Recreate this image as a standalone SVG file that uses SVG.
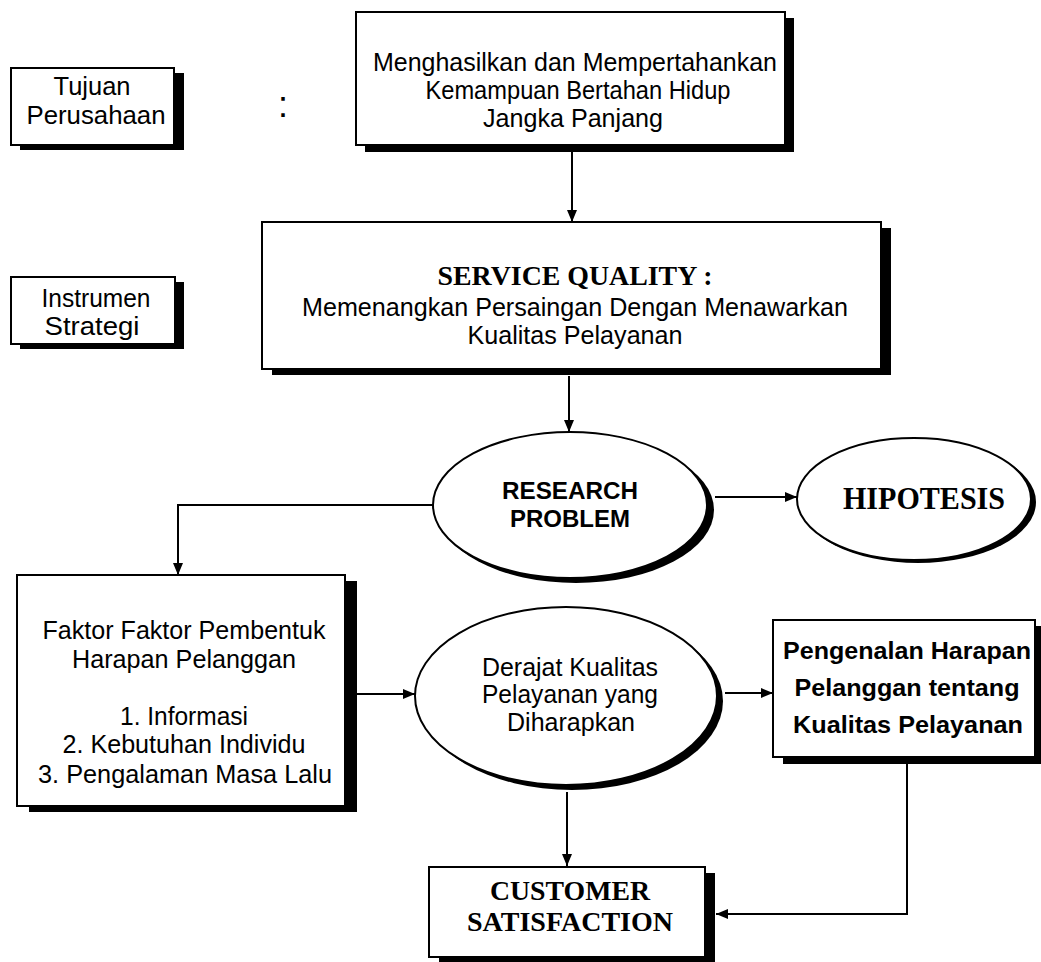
<svg xmlns="http://www.w3.org/2000/svg" width="1041" height="962" viewBox="0 0 1041 962">
  <style>
    .box { fill: #fff; stroke: #000; stroke-width: 2; }
    .shadow { fill: #000; stroke: none; }
    .t { font-family: "Liberation Sans", Arial, sans-serif; font-size: 25px; fill: #000; text-anchor: middle; }
    .tb { font-family: "Liberation Sans", Arial, sans-serif; font-size: 24px; font-weight: bold; fill: #000; text-anchor: middle; }
    .serif { font-family: "Liberation Serif", "Times New Roman", serif; font-weight: bold; fill: #000; text-anchor: middle; }
    .link { fill: none; stroke: #000; stroke-width: 2; }
  </style>
  <defs>
    <marker id="arrow" viewBox="0 0 12 10" refX="12" refY="5" markerWidth="12" markerHeight="10" markerUnits="userSpaceOnUse" orient="auto">
      <path d="M0,0 L12,5 L0,10 Z" fill="#000"/>
    </marker>
  </defs>
  <rect width="1041" height="962" fill="#fff"/>

  <!-- row labels -->
  <g id="tujuan">
    <rect class="shadow" x="20" y="73" width="164" height="77"/>
    <rect class="box" x="11" y="68" width="163" height="77"/>
    <text class="t" x="92" y="95" textLength="77" lengthAdjust="spacingAndGlyphs">Tujuan</text>
    <text class="t" x="96" y="124" textLength="139" lengthAdjust="spacingAndGlyphs">Perusahaan</text>
  </g>
  <g id="colon">
    <text class="t" x="283" y="117" style="font-size:36px">:</text>
  </g>
  <g id="instrumen">
    <rect class="shadow" x="20" y="282" width="164" height="67"/>
    <rect class="box" x="11" y="277" width="164" height="67"/>
    <text class="t" x="96" y="307" textLength="109" lengthAdjust="spacingAndGlyphs">Instrumen</text>
    <text class="t" x="92" y="335" textLength="95" lengthAdjust="spacingAndGlyphs">Strategi</text>
  </g>

  <!-- goal -->
  <g id="goal">
    <rect class="shadow" x="365" y="18" width="429" height="134"/>
    <rect class="box" x="356" y="12" width="429" height="133"/>
    <text class="t" x="575" y="71" textLength="404" lengthAdjust="spacingAndGlyphs">Menghasilkan dan Mempertahankan</text>
    <text class="t" x="578" y="99" textLength="305" lengthAdjust="spacingAndGlyphs">Kemampuan Bertahan Hidup</text>
    <text class="t" x="573" y="127" textLength="180" lengthAdjust="spacingAndGlyphs">Jangka Panjang</text>
  </g>

  <!-- strategy -->
  <g id="service-quality">
    <rect class="shadow" x="272" y="228" width="619" height="147"/>
    <rect class="box" x="262" y="222" width="619" height="147"/>
    <text class="serif" x="575" y="285" style="font-size:28px" textLength="275" lengthAdjust="spacingAndGlyphs">SERVICE QUALITY :</text>
    <text class="t" x="575" y="316" textLength="546" lengthAdjust="spacingAndGlyphs">Memenangkan Persaingan Dengan Menawarkan</text>
    <text class="t" x="575" y="344" textLength="215" lengthAdjust="spacingAndGlyphs">Kualitas Pelayanan</text>
  </g>

  <g id="research-problem">
    <ellipse class="shadow" cx="576" cy="510" rx="138" ry="73"/>
    <ellipse class="box" cx="570" cy="505" rx="137" ry="73"/>
    <text class="tb" x="570" y="499" textLength="136" lengthAdjust="spacingAndGlyphs">RESEARCH</text>
    <text class="tb" x="570" y="527" textLength="120" lengthAdjust="spacingAndGlyphs">PROBLEM</text>
  </g>

  <g id="hipotesis">
    <ellipse class="shadow" cx="918" cy="502" rx="118" ry="61"/>
    <ellipse class="box" cx="914" cy="499" rx="117" ry="61"/>
    <text class="serif" x="924" y="509" style="font-size:32px" textLength="162" lengthAdjust="spacingAndGlyphs">HIPOTESIS</text>
  </g>

  <g id="faktor">
    <rect class="shadow" x="29" y="581" width="328" height="231"/>
    <rect class="box" x="17" y="575" width="328" height="231"/>
    <text class="t" x="184" y="639" textLength="283" lengthAdjust="spacingAndGlyphs">Faktor Faktor Pembentuk</text>
    <text class="t" x="184" y="668" textLength="224" lengthAdjust="spacingAndGlyphs">Harapan Pelanggan</text>
    <text class="t" x="184" y="725" textLength="128" lengthAdjust="spacingAndGlyphs">1. Informasi</text>
    <text class="t" x="184" y="753" textLength="243" lengthAdjust="spacingAndGlyphs">2. Kebutuhan Individu</text>
    <text class="t" x="185" y="783" textLength="294" lengthAdjust="spacingAndGlyphs">3. Pengalaman Masa Lalu</text>
  </g>

  <g id="derajat">
    <ellipse class="shadow" cx="572" cy="701" rx="151" ry="89"/>
    <ellipse class="box" cx="566" cy="696" rx="151" ry="89"/>
    <text class="t" x="570" y="676" textLength="176" lengthAdjust="spacingAndGlyphs">Derajat Kualitas</text>
    <text class="t" x="570" y="703" textLength="176" lengthAdjust="spacingAndGlyphs">Pelayanan yang</text>
    <text class="t" x="571" y="731" textLength="128" lengthAdjust="spacingAndGlyphs">Diharapkan</text>
  </g>

  <g id="pengenalan">
    <rect class="shadow" x="783" y="626" width="262" height="138"/>
    <rect class="box" x="773" y="620" width="262" height="137"/>
    <text class="tb" x="907" y="659" textLength="248" lengthAdjust="spacingAndGlyphs">Pengenalan Harapan</text>
    <text class="tb" x="907" y="696" textLength="225" lengthAdjust="spacingAndGlyphs">Pelanggan tentang</text>
    <text class="tb" x="908" y="733" textLength="230" lengthAdjust="spacingAndGlyphs">Kualitas Pelayanan</text>
  </g>

  <g id="customer-satisfaction">
    <rect class="shadow" x="439" y="873" width="276" height="92"/>
    <rect class="box" x="429" y="867" width="276" height="90"/>
    <text class="serif" x="570" y="900" style="font-size:28px" textLength="160" lengthAdjust="spacingAndGlyphs">CUSTOMER</text>
    <text class="serif" x="570" y="931" style="font-size:28px" textLength="206" lengthAdjust="spacingAndGlyphs">SATISFACTION</text>
  </g>

  <!-- connectors -->
  <g id="connectors" class="link">
    <path d="M572,152 V222" marker-end="url(#arrow)"/>
    <path d="M569,376 V432" marker-end="url(#arrow)"/>
    <path d="M433,505 H178 V575" marker-end="url(#arrow)"/>
    <path d="M715,497 H797" marker-end="url(#arrow)"/>
    <path d="M357,694 H415" marker-end="url(#arrow)"/>
    <path d="M725,693 H773" marker-end="url(#arrow)"/>
    <path d="M567,792 V866" marker-end="url(#arrow)"/>
    <path d="M907,764 V914 H716" marker-end="url(#arrow)"/>
  </g>
</svg>
